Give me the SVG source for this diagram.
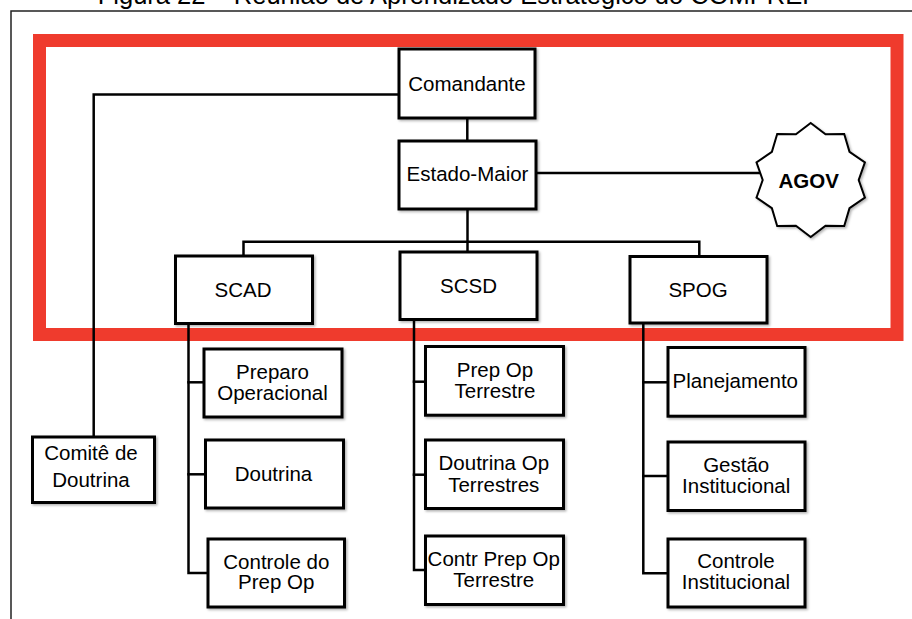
<svg xmlns="http://www.w3.org/2000/svg" width="912" height="619" viewBox="0 0 912 619">
  <style>
    .box { fill: #ffffff; stroke: #000000; stroke-width: 3; filter: url(#shadow); }
    .lbl { font-family: "Liberation Sans", Arial, sans-serif; font-size: 20.5px; fill: #000000; text-anchor: middle; }
    .bold { font-weight: bold; }
    .wire { fill: none; stroke: #000000; stroke-width: 2.5; stroke-linecap: square; }
    .frame { fill: none; stroke: #222222; stroke-width: 1.5; }
    .highlight { fill: none; stroke: #ef3b2d; stroke-width: 13; }
    .caption { font-family: "Liberation Sans", Arial, sans-serif; font-size: 25.5px; fill: #000000; text-anchor: middle; }
  </style>
  <defs>
    <filter id="shadow" x="-10%" y="-10%" width="130%" height="130%">
      <feDropShadow dx="1.5" dy="1.5" stdDeviation="1" flood-color="#000000" flood-opacity="0.3"/>
    </filter>
  </defs>

  <rect width="912" height="619" fill="#ffffff"/>

  <!-- caption, partly above the top edge -->
  <text class="caption" x="458.5" y="4">Figura 22 – Reunião de Aprendizado Estratégico do COMPREP</text>

  <!-- outer frame -->
  <path class="frame" d="M11,640 V11 H914"/>

  <!-- highlight around the command level -->
  <rect class="highlight" x="39.5" y="40.5" width="857.5" height="294"/>

  <g id="connectors">
    <!-- Comandante to Comitê de Doutrina -->
    <path class="wire" d="M399,94.5 H93.7 V437"/>
    <!-- Comandante to Estado-Maior -->
    <path class="wire" d="M467.3,118 V141"/>
    <!-- Estado-Maior to AGOV -->
    <path class="wire" d="M536,173 H760"/>
    <!-- Estado-Maior to sections -->
    <path class="wire" d="M467.5,209 V252"/>
    <path class="wire" d="M243.5,256 V241.7 H699.3 V256.5"/>
    <!-- SCAD branches -->
    <path class="wire" d="M188.5,323.5 V573 H208"/>
    <path class="wire" d="M188.5,382.3 H204"/>
    <path class="wire" d="M188.5,474.3 H205.5"/>
    <!-- SCSD branches -->
    <path class="wire" d="M414,319.5 V570 H425.5"/>
    <path class="wire" d="M414,381.7 H425.5"/>
    <path class="wire" d="M414,474.7 H425.5"/>
    <!-- SPOG branches -->
    <path class="wire" d="M643.3,322.8 V573.3 H668"/>
    <path class="wire" d="M643.3,382.3 H668"/>
    <path class="wire" d="M643.3,476 H668"/>
  </g>

  <g id="comandante">
    <rect class="box" x="399" y="49" width="136" height="69"/>
    <text class="lbl" x="467" y="90.5">Comandante</text>
  </g>

  <g id="estado-maior">
    <rect class="box" x="399" y="141" width="137" height="68"/>
    <text class="lbl" x="467.5" y="180.5">Estado-Maior</text>
  </g>

  <g id="agov">
    <polygon class="box" transform="translate(810.7,180)"
      points="0,-57 14.8,-45.7 33.5,-46.1 38.8,-28.2 54.2,-17.6 48,0 54.2,17.6 38.8,28.2 33.5,46.1 14.8,45.7 0,57 -14.8,45.7 -33.5,46.1 -38.8,28.2 -54.2,17.6 -48,0 -54.2,-17.6 -38.8,-28.2 -33.5,-46.1 -14.8,-45.7" style="stroke-width:2"/>
    <text class="lbl bold" x="808.7" y="187.5">AGOV</text>
  </g>

  <g id="scad">
    <rect class="box" x="175.5" y="256" width="137" height="67.5"/>
    <text class="lbl" x="243" y="296.5">SCAD</text>
  </g>

  <g id="scsd">
    <rect class="box" x="400" y="252" width="137" height="67.5"/>
    <text class="lbl" x="468.5" y="292.5">SCSD</text>
  </g>

  <g id="spog">
    <rect class="box" x="630" y="256.5" width="137" height="66.5"/>
    <text class="lbl" x="698" y="296.5">SPOG</text>
  </g>

  <g id="comite-doutrina">
    <rect class="box" x="32.5" y="437" width="122" height="65.5"/>
    <text class="lbl" x="91" y="460">Comitê de</text>
    <text class="lbl" x="91" y="486.5">Doutrina</text>
  </g>

  <g id="preparo-operacional">
    <rect class="box" x="204" y="349" width="138" height="68"/>
    <text class="lbl" x="272.5" y="379">Preparo</text>
    <text class="lbl" x="272.5" y="399.5">Operacional</text>
  </g>

  <g id="doutrina">
    <rect class="box" x="205.5" y="440" width="138" height="68"/>
    <text class="lbl" x="273.5" y="481">Doutrina</text>
  </g>

  <g id="controle-prep-op">
    <rect class="box" x="208" y="539" width="136.5" height="68"/>
    <text class="lbl" x="276.3" y="569.3">Controle do</text>
    <text class="lbl" x="276.3" y="589.3">Prep Op</text>
  </g>

  <g id="prep-op-terrestre">
    <rect class="box" x="425.5" y="346.5" width="138" height="68.7"/>
    <text class="lbl" x="495" y="376.7">Prep Op</text>
    <text class="lbl" x="495" y="397.7">Terrestre</text>
  </g>

  <g id="doutrina-op-terrestres">
    <rect class="box" x="425.5" y="440" width="138" height="68.5"/>
    <text class="lbl" x="493.8" y="470">Doutrina Op</text>
    <text class="lbl" x="493.8" y="491.7">Terrestres</text>
  </g>

  <g id="contr-prep-op-terrestre">
    <rect class="box" x="425.5" y="536" width="138" height="68.5"/>
    <text class="lbl" x="493.7" y="566">Contr Prep Op</text>
    <text class="lbl" x="493.7" y="586.7">Terrestre</text>
  </g>

  <g id="planejamento">
    <rect class="box" x="668" y="347.5" width="137" height="68.7"/>
    <text class="lbl" x="735.3" y="388.3">Planejamento</text>
  </g>

  <g id="gestao-institucional">
    <rect class="box" x="668" y="442" width="137" height="68.5"/>
    <text class="lbl" x="736.2" y="471.7">Gestão</text>
    <text class="lbl" x="736.2" y="493.3">Institucional</text>
  </g>

  <g id="controle-institucional">
    <rect class="box" x="668" y="539" width="137" height="68"/>
    <text class="lbl" x="736" y="568.3">Controle</text>
    <text class="lbl" x="736" y="589.3">Institucional</text>
  </g>
</svg>
